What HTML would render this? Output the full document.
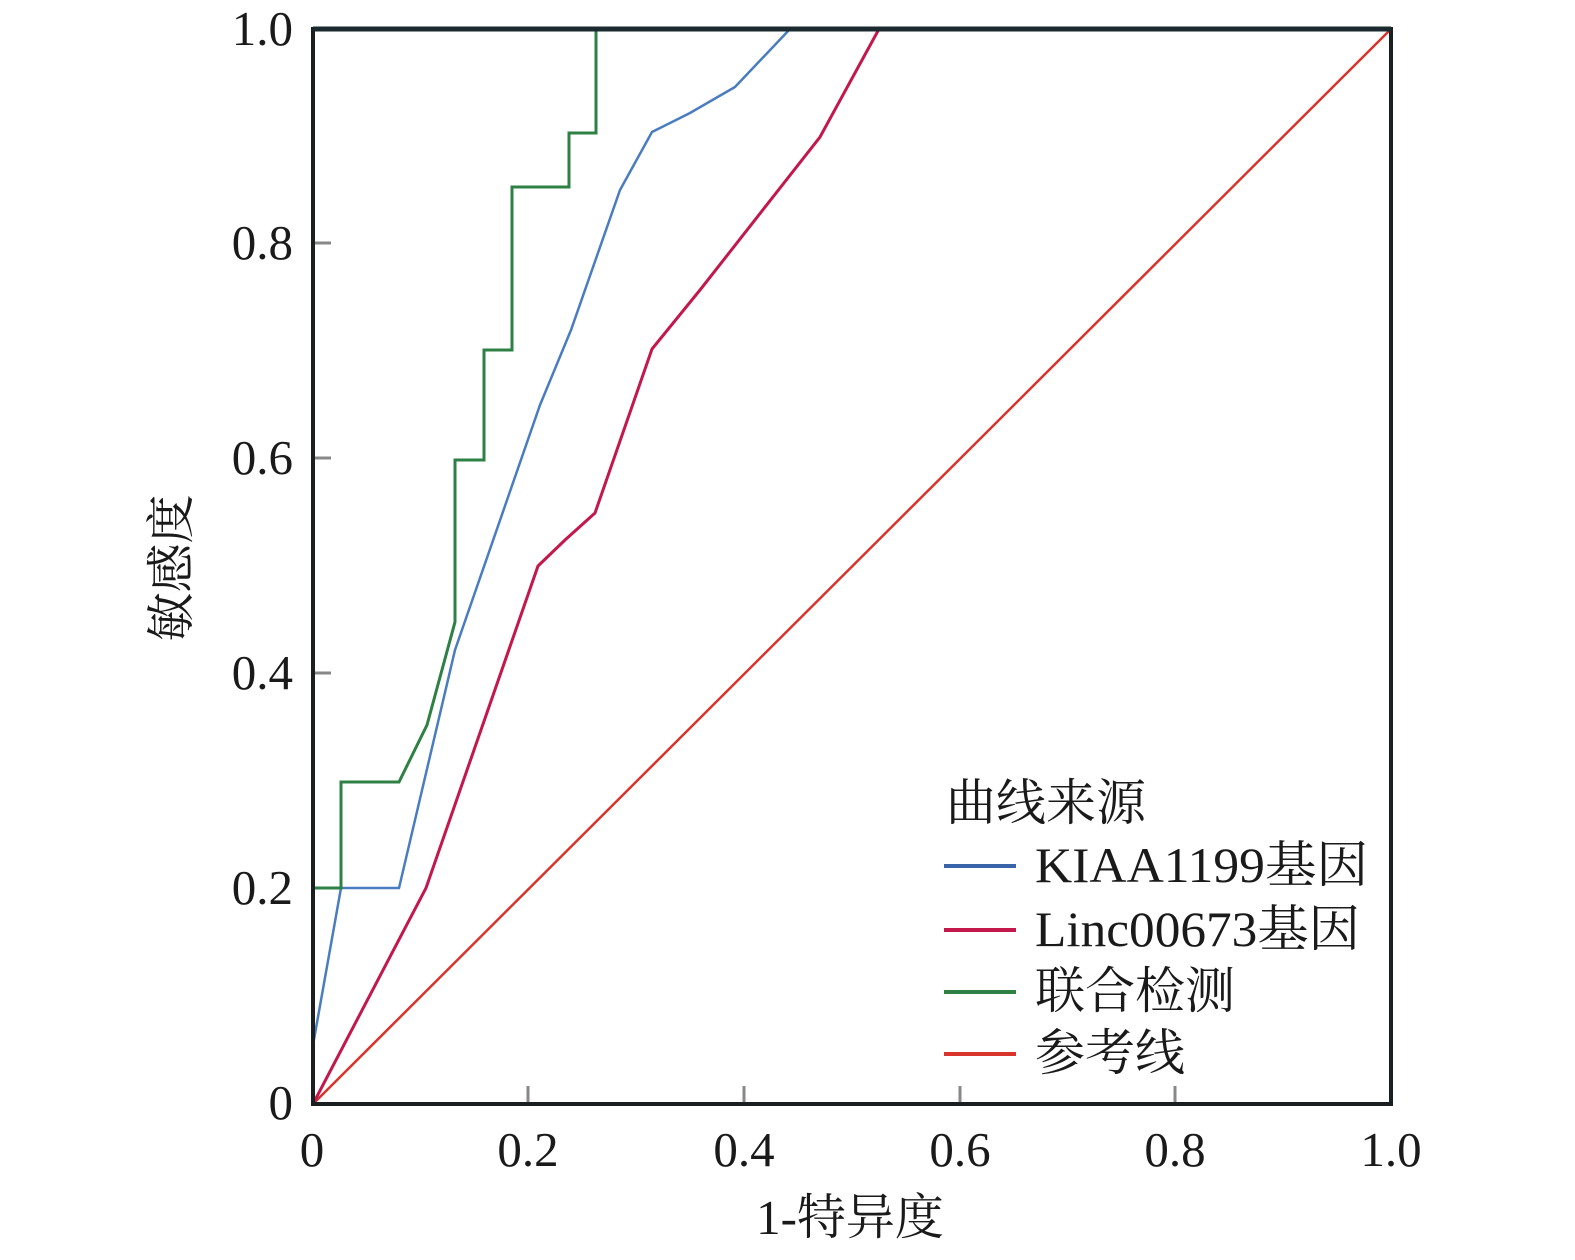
<!DOCTYPE html>
<html><head><meta charset="utf-8"><style>
body{margin:0;background:#fff}
text{font-family:"Liberation Serif","Noto Serif CJK SC",serif;fill:#1a1a1a}
</style></head><body>
<svg width="1575" height="1255" xmlns="http://www.w3.org/2000/svg">
<rect width="1575" height="1255" fill="#fff"/>
<g stroke="#888" stroke-width="3">
<line x1="313" y1="243" x2="331" y2="243"/><line x1="313" y1="458" x2="331" y2="458"/>
<line x1="313" y1="673" x2="331" y2="673"/><line x1="313" y1="888" x2="331" y2="888"/>
<line x1="528" y1="1104" x2="528" y2="1086"/><line x1="744" y1="1104" x2="744" y2="1086"/>
<line x1="960" y1="1104" x2="960" y2="1086"/><line x1="1175" y1="1104" x2="1175" y2="1086"/>
</g>
<line x1="313" y1="1104" x2="1391" y2="29" stroke="#d8342c" stroke-width="2.5"/>
<polyline fill="none" stroke="#c2184c" stroke-width="3" points="313,1104 426,888 538,566 565,540 595,513 652,349 700,290 820,137 879,29"/>
<polyline fill="none" stroke="#4a7cc0" stroke-width="2.5" points="313,1045 341,888 399,888 455,650 540,405 571,330 620,190 652,132 690,113 735,87 790,29"/>
<polyline fill="none" stroke="#2e8044" stroke-width="3" points="313,888 341,888 341,782 399,782 427,725 455,622 455,460 484,460 484,350 512,350 512,187 569,187 569,133 596,133 596,29"/>
<rect x="313" y="29" width="1078" height="1075" fill="none" stroke="#1a1f22" stroke-width="4"/>
<line x1="313" y1="29" x2="1391" y2="29" stroke="#1a2a2e" stroke-width="5"/>
<g font-size="49" text-anchor="end">
<text x="293" y="45">1.0</text><text x="293" y="259">0.8</text><text x="293" y="474">0.6</text>
<text x="293" y="689">0.4</text><text x="293" y="904">0.2</text><text x="293" y="1119">0</text>
</g>
<g font-size="49" text-anchor="middle">
<text x="312" y="1166">0</text><text x="528" y="1166">0.2</text><text x="744" y="1166">0.4</text>
<text x="960" y="1166">0.6</text><text x="1175" y="1166">0.8</text><text x="1391" y="1166">1.0</text>
<text x="850" y="1234">1-特异度</text>
<text transform="translate(188,568) rotate(-90)">敏感度</text>
</g>
<g font-size="50">
<text x="946" y="820">曲线来源</text>
<text x="1035" y="882" textLength="333" lengthAdjust="spacingAndGlyphs">KIAA1199基因</text>
<text x="1035" y="946" textLength="325" lengthAdjust="spacingAndGlyphs">Linc00673基因</text>
<text x="1035" y="1008">联合检测</text>
<text x="1035" y="1070">参考线</text>
</g>
<g stroke-width="4">
<line x1="944" y1="866" x2="1016" y2="866" stroke="#3a64a8"/>
<line x1="944" y1="930" x2="1016" y2="930" stroke="#c2184c"/>
<line x1="944" y1="992" x2="1016" y2="992" stroke="#2e8044"/>
<line x1="944" y1="1054" x2="1016" y2="1054" stroke="#d8342c"/>
</g>
</svg>
</body></html>
